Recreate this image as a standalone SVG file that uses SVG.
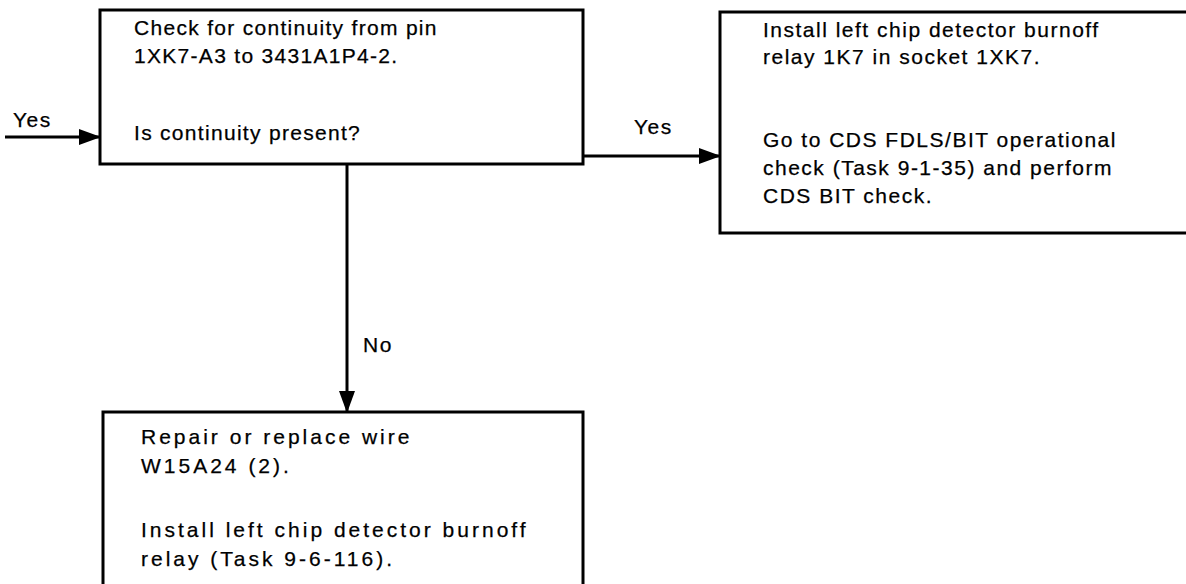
<svg xmlns="http://www.w3.org/2000/svg" width="1186" height="584" viewBox="0 0 1186 584">
<defs>
<style>
.box{fill:#fff;stroke:#000;stroke-width:3}
.ln{fill:none;stroke:#000;stroke-width:3}
text{font-family:"Liberation Sans",Arial,sans-serif;font-size:21px;fill:#000;stroke:#000;stroke-width:0.25}
.lb{letter-spacing:1.5px}
.t1{letter-spacing:1.3px}
.t2{letter-spacing:1.5px}
.t3{letter-spacing:3px}
</style>
<marker id="ah" viewBox="0 0 22 16" refX="21" refY="8" markerWidth="22" markerHeight="16" markerUnits="userSpaceOnUse" orient="auto">
<path d="M0,0 L22,8 L0,16 Z" fill="#000"/>
</marker>
</defs>
<rect width="1186" height="584" fill="#fff"/>
<g id="connectors">
<line class="ln" x1="5" y1="137" x2="100" y2="137" marker-end="url(#ah)"/>
<line class="ln" x1="583" y1="156" x2="720" y2="156" marker-end="url(#ah)"/>
<line class="ln" x1="347" y1="164" x2="347" y2="412" marker-end="url(#ah)"/>
<text class="lb" x="13" y="127">Yes</text>
<text class="lb" x="634" y="134">Yes</text>
<text class="lb" x="363" y="352">No</text>
</g>
<g id="node1">
<rect class="box" x="100" y="10" width="483" height="154"/>
<text class="t1" x="134" y="35">Check for continuity from pin</text>
<text class="t1" x="134" y="63">1XK7-A3 to 3431A1P4-2.</text>
<text class="t1" x="134" y="140">Is continuity present?</text>
</g>
<g id="node2">
<rect class="box" x="720" y="12" width="480" height="221"/>
<text class="t2" x="763" y="37">Install left chip detector burnoff</text>
<text class="t2" x="763" y="64">relay 1K7 in socket 1XK7.</text>
<text class="t2" x="763" y="147">Go to CDS FDLS/BIT operational</text>
<text class="t2" x="763" y="175">check (Task 9-1-35) and perform</text>
<text class="t2" x="763" y="203">CDS BIT check.</text>
</g>
<g id="node3">
<rect class="box" x="103" y="412" width="480" height="190"/>
<text class="t3" x="141" y="444">Repair or replace wire</text>
<text class="t3" x="141" y="473">W15A24 (2).</text>
<text class="t3" x="141" y="537">Install left chip detector burnoff</text>
<text class="t3" x="141" y="566">relay (Task 9-6-116).</text>
</g>
</svg>
